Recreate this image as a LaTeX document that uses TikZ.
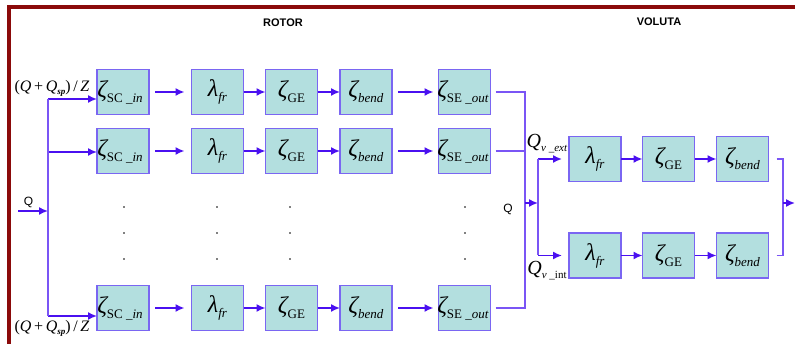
\documentclass[tikz,border=0pt]{standalone}
\usepackage{fontspec}
\usetikzlibrary{arrows.meta}
\newfontfamily\tms{Liberation Serif}
\newfontfamily\arl{Liberation Sans}

\definecolor{framec}{HTML}{8B0A0A}
\definecolor{boxfill}{HTML}{B3DFDF}
\definecolor{boxline}{HTML}{7A66F2}
\definecolor{arrc}{HTML}{4A10F0}
\definecolor{linec}{HTML}{7A55F5}

% Greek symbol with a lowered subscript, Times-like
\newcommand\gsub[2]{{\tms\fontsize{24}{24}\selectfont\itshape #1}\raisebox{-5pt}{\tms\fontsize{13}{13}\selectfont #2}}
% Large italic Q with a lowered subscript
\newcommand\qsub[1]{{\tms\fontsize{20}{20}\selectfont\itshape Q}\raisebox{-4pt}{\tms\fontsize{11}{11}\selectfont #1}}
% (Q+Q_sp)/Z
\newcommand\qflow{{\tms\fontsize{16}{16}\selectfont (\textit{Q}\,+\,\textit{Q}\raisebox{-3pt}{\fontsize{9}{9}\selectfont\bfseries\itshape sp})\,/\,\textit{Z}}}

\tikzset{
  blk/.style={draw=boxline, fill=boxfill, line width=1.3pt,
    minimum width=52pt, minimum height=45pt, inner sep=0pt, outer sep=0pt},
  arr/.style={draw=arrc, line width=1.6pt, -{Latex[length=9pt,width=8pt]}},
  ln/.style={draw=linec, line width=1.1pt},
  dot/.style={fill=black, circle, inner sep=0pt, minimum size=1.6pt},
  title/.style={font=\arl\bfseries\fontsize{11}{11}\selectfont},
  qlab/.style={font=\arl\fontsize{12}{12}\selectfont}
}

\begin{document}
\begin{tikzpicture}[x=1pt,y=-1pt]
\useasboundingbox (0,0) rectangle (795,344);

% frame
\draw[framec, line width=4pt] (9,360) -- (9,7) -- (820,7);

% titles
\node[title] (trotor) at (283,23) {ROTOR};
\node[title] (tvoluta) at (659,22) {VOLUTA};

% rotor channels
\foreach \r/\y/\yi in {1/92/99, 2/151/152, 3/308/316} {
  \node[blk] (c1-\r) at (123,\y) {\hspace*{-6pt}\gsub{ζ}{SC \_\textit{in}}};
  \node[blk] (c2-\r) at (217.5,\y) {\gsub{λ}{\textit{fr}}};
  \node[blk] (c3-\r) at (291.5,\y) {\gsub{ζ}{GE}};
  \node[blk] (c4-\r) at (366,\y) {\gsub{ζ}{\textit{bend}}};
  \node[blk] (c5-\r) at (464.5,\y) {\hspace*{-3pt}\gsub{ζ}{SE \_\textit{out}}};
  \coordinate (in\r) at (48,\yi);
  \draw[arr] (in\r) -- (c1-\r.west |- in\r);
  \draw[arr, shorten <=6pt, shorten >=7pt] (c1-\r.east) -- (c2-\r.west);
  \draw[arr] (c2-\r.east) -- (c3-\r.west);
  \draw[arr] (c3-\r.east) -- (c4-\r.west);
  \draw[arr, shorten <=6pt, shorten >=5pt] (c4-\r.east) -- (c5-\r.west);
}

% inlet distribution
\draw[ln] (in1) -- (in3);
\coordinate (qin) at (18,211);
\coordinate (qj) at (48,211);
\draw[arr] (qin) -- (qj);
\node[qlab] (lq1) at (28.5,202) {Q};
\node (lf1) at (52,88) {\qflow};
\node (lf3) at (52,328) {\qflow};

% ellipsis dots
\foreach \x in {124,217,290,465}
  \foreach \yd in {207,233,259}
    \node[dot] at (\x,\yd) {};

% rotor collector
\coordinate (jr) at (525,203);
\draw[ln] ([xshift=5pt]c5-1.east) -| (jr);
\draw[ln] ([xshift=5pt]c5-3.east) -| (jr);
\draw[ln] ([xshift=5pt]c5-2.east) -- (c5-2.east -| jr);
\coordinate (js) at (538,203);
\draw[arr] (jr) -- (js);
\node[qlab] (lq2) at (508,209) {Q};

% volute channels
\foreach \r/\y in {1/159, 2/255.5} {
  \node[blk] (v1-\r) at (595,\y) {\gsub{λ}{\textit{fr}}};
  \node[blk] (v2-\r) at (668.5,\y) {\gsub{ζ}{GE}};
  \node[blk] (v3-\r) at (742.5,\y) {\gsub{ζ}{\textit{bend}}};
  \coordinate (a\r) at (js |- v1-\r);
  \draw[arr, shorten >=7pt] (a\r) -- (v1-\r.west);
  \draw[arr] (v1-\r.east) -- (v2-\r.west);
  \draw[arr] (v2-\r.east) -- (v3-\r.west);
}
\draw[ln] (a1) -- (a2);
\node (lext) at (547,144) {\qsub{\textit{v \_ext}}};
\node (lint) at (547,271) {\qsub{\textit{v} \_int}};

% volute collector
\coordinate (jo) at (783,203);
\draw[ln] ([xshift=8pt]v3-1.east) -| (jo);
\draw[ln] ([xshift=8pt]v3-2.east) -| (jo);
\coordinate (qout) at (795,203);
\draw[arr] (jo) -- (qout);
\end{tikzpicture}
\end{document}
